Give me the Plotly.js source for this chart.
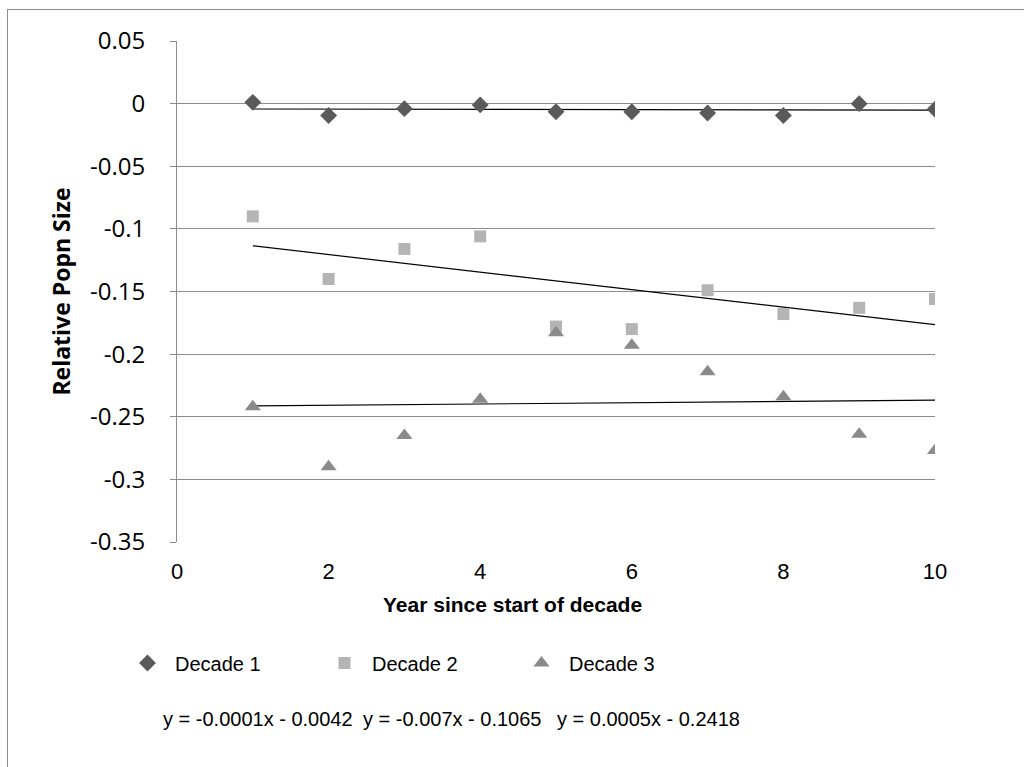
<!DOCTYPE html>
<html>
<head>
<meta charset="utf-8">
<script src="https://cdn.plot.ly/plotly-3.0.1.min.js"></script>
<style>
  html, body { margin: 0; padding: 0; background: #ffffff; }
  #chart { width: 1024px; height: 767px; }
  #frame { position: absolute; left: 7px; top: 9px; width: 1030px; height: 800px; border: 1px solid #8c8c8c; pointer-events: none; }
</style>
</head>
<body>
<div id="chart"></div>
<div id="frame"></div>
<script>
// ---- data ----
const years = [1, 2, 3, 4, 5, 6, 7, 8, 9, 10];
const decade1 = [0.001, -0.0095, -0.004, -0.001, -0.0065, -0.0065, -0.0075, -0.0095, 0.0, -0.0045];
const decade2 = [-0.09, -0.14, -0.116, -0.106, -0.178, -0.18, -0.149, -0.168, -0.163, -0.156];
const decade3 = [-0.242, -0.29, -0.265, -0.236, -0.183, -0.193, -0.214, -0.234, -0.264, -0.277];
const seriesNames = ["Decade 1", "Decade 2", "Decade 3"];
// trendline coefficients (slope, intercept) as printed on the chart
const trendSlopes = [-0.0001, -0.007, 0.0005];
const trendIntercepts = [-0.0042, -0.1065, -0.2418];
const trendLabels = ["y = -0.0001x - 0.0042", "y = -0.007x - 0.1065", "y = 0.0005x - 0.2418"];
const yTickVals = [0.05, 0, -0.05, -0.1, -0.15, -0.2, -0.25, -0.3, -0.35];
const yTickText = ["0.05", "0", "-0.05", "-0.1", "-0.15", "-0.2", "-0.25", "-0.3", "-0.35"];
const xTickVals = [0, 2, 4, 6, 8, 10];
const xTickText = ["0", "2", "4", "6", "8", "10"];
const xTitle = "Year since start of decade";
const yTitle = "Relative Popn Size";

const colors = ["#5a5a5a", "#b4b4b4", "#8a8a8a"];
const symbols = ["diamond", "square", "triangle-up"];
const sizes = [13, 12, 14];
const seriesData = [decade1, decade2, decade3];

const arial = "'Liberation Sans', Arial, sans-serif";
const wide = "'Open Sans', 'DejaVu Sans', sans-serif";

const traces = [];
for (let i = 0; i < 3; i++) {
  const x0 = years[0], x1 = years[years.length - 1];
  traces.push({
    x: [x0, x1],
    y: [trendSlopes[i] * x0 + trendIntercepts[i], trendSlopes[i] * x1 + trendIntercepts[i]],
    mode: "lines",
    line: { color: "#000000", width: 1.2 },
    showlegend: false,
    hoverinfo: "skip"
  });
}
for (let i = 0; i < 3; i++) {
  traces.push({
    x: years,
    y: seriesData[i],
    name: seriesNames[i],
    mode: "markers",
    marker: { symbol: symbols[i], size: sizes[i], color: colors[i], line: { width: 0 } }
  });
}

const L = 177, R = 935, T = 41, B = 542;
const H = B - T, W = R - L;
function py(pix) { return (B - pix) / H; }
function px(pix) { return (pix - L) / W; }

const annotations = trendLabels.map((t, i) => ({
  text: t,
  xref: "paper", yref: "paper",
  x: px([258, 452, 648][i]), y: py(719),
  xanchor: "center", yanchor: "middle",
  showarrow: false,
  font: { family: arial, size: 20, color: "#000000" }
}));
annotations.push({
  text: "<b>" + xTitle + "</b>",
  xref: "paper", yref: "paper",
  x: px(512), y: py(604),
  xanchor: "center", yanchor: "middle",
  showarrow: false,
  font: { family: arial, size: 21, color: "#000000" }
});

const layout = {
  width: 1024, height: 767,
  paper_bgcolor: "#ffffff", plot_bgcolor: "#ffffff",
  margin: { l: L, r: 1024 - R, t: T, b: 767 - B, autoexpand: false },
  showlegend: true,
  legend: {
    orientation: "h",
    x: px(120), y: py(663), xanchor: "left", yanchor: "middle",
    entrywidth: 137, entrywidthmode: "pixels",
    itemwidth: 45,
    font: { family: arial, size: 20, color: "#000000" },
    bgcolor: "rgba(0,0,0,0)"
  },
  xaxis: {
    range: [0, 10],
    tickvals: xTickVals, ticktext: xTickText,
    showgrid: false, zeroline: false,
    showline: false, ticks: "",
    ticklabelstandoff: 14,
    tickfont: { family: arial, size: 22, color: "#000000" },
    automargin: false
  },
  yaxis: {
    range: [-0.35, 0.05],
    tickvals: yTickVals, ticktext: yTickText,
    showgrid: true, gridcolor: "#8c8c8c", gridwidth: 1,
    zeroline: false,
    showline: true, linecolor: "#8c8c8c", linewidth: 1,
    ticks: "outside", ticklen: 6, tickcolor: "#8c8c8c",
    ticklabelstandoff: 20,
    tickfont: { family: wide, size: 24, color: "#000000" },
    title: { text: "<b>" + yTitle + "</b>", standoff: 12, font: { family: wide, size: 23, color: "#000000" } },
    automargin: false
  },
  annotations: annotations
};

Plotly.newPlot("chart", traces, layout, { displayModeBar: false, staticPlot: true });
</script>
</body>
</html>
